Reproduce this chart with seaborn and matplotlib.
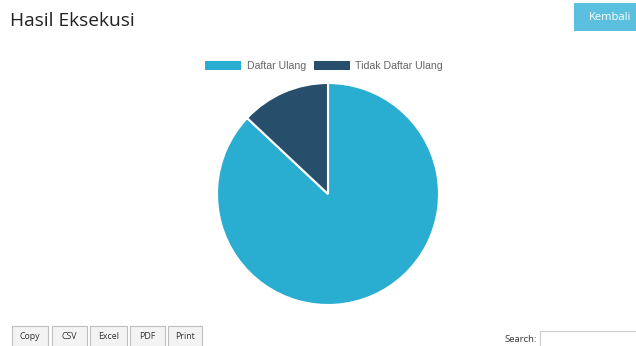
import matplotlib
matplotlib.use("Agg")
import matplotlib.pyplot as plt
from matplotlib.patches import Rectangle
import seaborn as sns

# Data
categories = ["Daftar Ulang", "Tidak Daftar Ulang"]
values = [87, 13]
colors = ["#29aed1", "#274f6c"]
buttons = ["Copy", "CSV", "Excel", "PDF", "Print"]
button_x = [12, 52, 90, 130, 168]
button_w = [36, 35, 37, 35, 34]

sns.set_theme(style="white")
plt.rcParams["font.family"] = ["Liberation Sans", "DejaVu Sans"]

W, H = 636, 346
fig = plt.figure(figsize=(W / 100, H / 100), dpi=100)
fig.patch.set_facecolor("white")

# Pie axes
cx, cy, r = 328, 194, 111
ax = fig.add_axes([(cx - r) / W, (H - cy - r) / H, 2 * r / W, 2 * r / H])
wedges, _ = ax.pie(values, colors=sns.color_palette(colors), startangle=90,
                   counterclock=False, radius=1,
                   wedgeprops=dict(edgecolor="white", linewidth=1.5))
ax.set_xlim(-1, 1)
ax.set_ylim(-1, 1)
ax.set_aspect("auto")
ax.axis("off")

# Legend
leg = fig.legend(wedges, categories, loc="center", bbox_to_anchor=(324 / W, 1 - 66 / H),
                 ncol=2, frameon=False, prop={"family": ["Liberation Sans"], "size": 7.6},
                 handlelength=3.4, handleheight=0.95,
                 handletextpad=0.55, columnspacing=0.75, labelcolor="#666666",
                 borderaxespad=0, borderpad=0)
for h in leg.legend_handles:
    h.set_edgecolor("none")

# Overlay axes in pixel coordinates
ov = fig.add_axes([0, 0, 1, 1], zorder=5)
ov.set_xlim(0, W)
ov.set_ylim(H, 0)
ov.axis("off")

# Title
ov.text(10, 21, "Hasil Eksekusi", fontsize=13.8, color="#222222", va="center", ha="left",
        family=["Open Sans", "DejaVu Sans"])

# Kembali button
ov.add_patch(Rectangle((574, 3), 70, 28, facecolor="#5bc0de", edgecolor="none"))
ov.text(610, 17.5, "Kembali", fontsize=8, color="white", va="center", ha="center",
        family=["Open Sans", "DejaVu Sans"])

# Export buttons
for label, x, w in zip(buttons, button_x, button_w):
    ov.add_patch(Rectangle((x, 326), w, 24, facecolor="#f3f3f3", edgecolor="#bdbdbd", linewidth=0.8))
    ov.text(x + w / 2, 336.5, label, fontsize=6.3, color="#333333", va="center", ha="center",
            family=["Open Sans", "DejaVu Sans"])

# Search
ov.text(537, 339.5, "Search:", fontsize=6.8, color="#333333", va="center", ha="right",
        family=["Open Sans", "DejaVu Sans"])
ov.add_patch(Rectangle((540, 331), 100, 20, facecolor="white", edgecolor="#cccccc", linewidth=0.8))

fig.savefig("out.png", dpi=100)
